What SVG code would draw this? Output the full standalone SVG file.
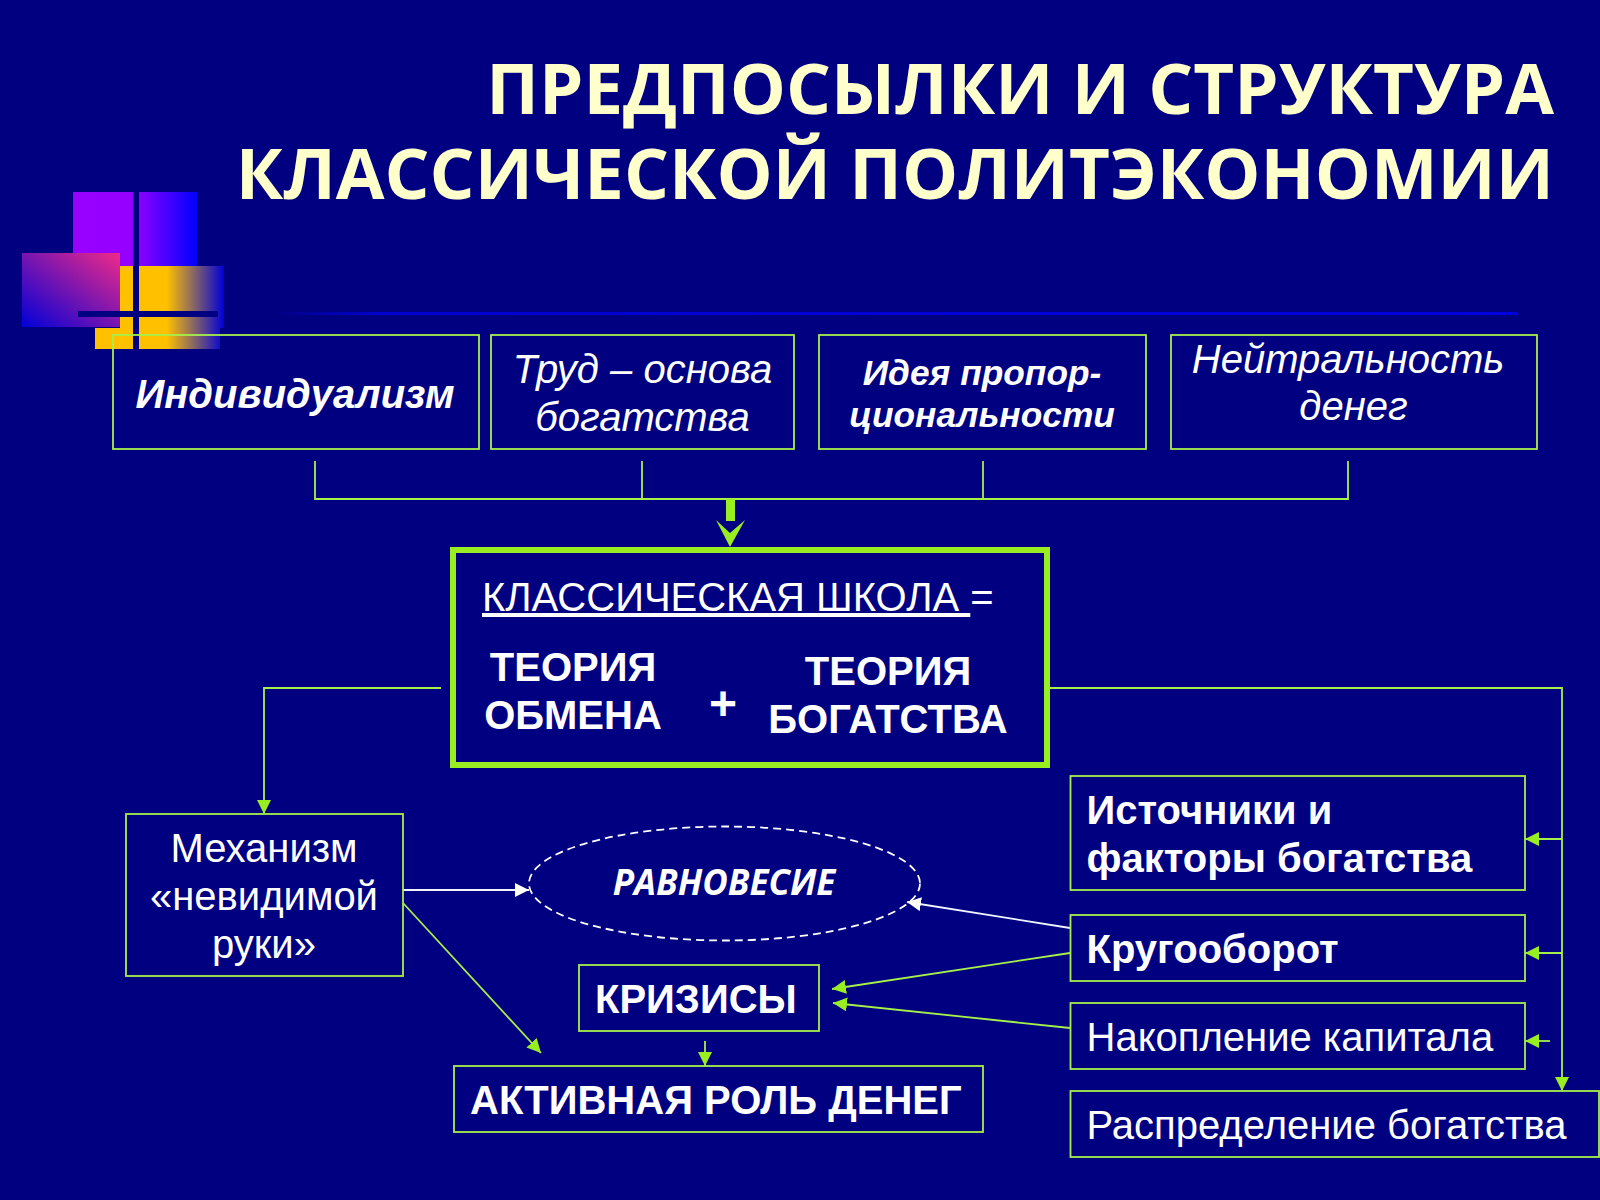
<svg xmlns="http://www.w3.org/2000/svg" width="1600" height="1200" viewBox="0 0 1600 1200">
<style>
text{font-family:"Liberation Sans",Arial,sans-serif;fill:#fff}
.t{font-family:"Open Sans","Noto Sans",sans-serif;font-weight:700;font-size:70.7px;fill:#ffc;text-anchor:end}
.b{fill:none;stroke:#a6f04a;stroke-width:1.8}
.c{fill:none;stroke:#a6f04a;stroke-width:1.8}
.w{fill:none;stroke:#f0f4ff;stroke-width:1.8}
.s{font-size:40px}
.bb{font-size:40px;font-weight:700}
.m{text-anchor:middle}
.bi{font-weight:700;font-style:italic}
.i{font-style:italic}
</style>
<defs>
<marker id="g" viewBox="0 0 14 14" refX="14" refY="7" markerWidth="14" markerHeight="14" markerUnits="userSpaceOnUse" orient="auto"><path d="M0 0L14 7L0 14Z" fill="#99ee22"/></marker>
<marker id="wh" viewBox="0 0 14 14" refX="14" refY="7" markerWidth="14" markerHeight="14" markerUnits="userSpaceOnUse" orient="auto"><path d="M0 0L14 7L0 14Z" fill="#fff"/></marker>
<linearGradient id="p1" x1="0" x2="1" y1="0" y2="0"><stop offset="0" stop-color="#9900ff"/><stop offset=".5" stop-color="#9400ff"/><stop offset="1" stop-color="#0000ff"/></linearGradient>
<linearGradient id="p2" x1="0" x2="1" y1="1" y2="0"><stop offset="0" stop-color="#0000d8"/><stop offset="1" stop-color="#f02a88"/></linearGradient>
<linearGradient id="y1" gradientUnits="userSpaceOnUse" x1="120" x2="224" y1="0" y2="0"><stop offset="0" stop-color="#ffc000"/><stop offset=".45" stop-color="#ffc000"/><stop offset="1" stop-color="#0000d8"/></linearGradient>
<linearGradient id="ln" gradientUnits="userSpaceOnUse" x1="270" x2="1517" y1="0" y2="0"><stop offset="0" stop-color="#000080"/><stop offset=".09" stop-color="#0000d0"/><stop offset="1" stop-color="#0000e0"/></linearGradient>
</defs>
<rect width="1600" height="1200" fill="#000080"/>
<g id="deco">
<rect x="73" y="192" width="124" height="74" fill="url(#p1)"/>
<rect x="120" y="266" width="104" height="62" fill="url(#y1)"/>
<rect x="95" y="328" width="125" height="21" fill="url(#y1)"/>
<rect x="95" y="328" width="30" height="21" fill="#ffc000"/>
<rect x="22" y="253" width="98" height="74" fill="url(#p2)"/>
<rect x="133" y="192" width="6" height="158" fill="#000080"/>
<rect x="78" y="311" width="140" height="6" fill="#000080"/>
<rect x="270" y="312" width="1247" height="3" fill="url(#ln)"/>
</g>
<g id="title">
<text class="t" x="1554" y="114">ПРЕДПОСЫЛКИ И СТРУКТУРА</text>
<text class="t" x="1554" y="199">КЛАССИЧЕСКОЙ ПОЛИТЭКОНОМИИ</text>
</g>
<g id="connectors">
<path class="c" d="M315 461V499H1348V461M642 461V499M983 461V499"/>
<rect x="726" y="499" width="9" height="22" fill="#99ee22"/>
<path d="M716 520L730 533L745 520L730 547Z" fill="#99ee22"/>
<path class="c" d="M441 688H264V814" marker-end="url(#g)"/>
<path class="c" d="M1050 688H1562V1091" marker-end="url(#g)"/>
<path class="c" d="M1562 839H1525" marker-end="url(#g)"/>
<path class="c" d="M1562 953H1525" marker-end="url(#g)"/>
<path class="c" d="M1550 1041H1525" marker-end="url(#g)"/>
<path class="w" d="M403 890H529" marker-end="url(#wh)"/>
<path class="w" d="M1070 928L907 902" marker-end="url(#wh)"/>
<path class="c" d="M1070 953L832 989" marker-end="url(#g)"/>
<path class="c" d="M1070 1028L833 1003" marker-end="url(#g)"/>
<path class="c" d="M403 903L541 1053" marker-end="url(#g)"/>
<path class="c" d="M705 1041V1066" marker-end="url(#g)"/>
</g>
<g id="n-individualism"><rect class="b" x="113" y="335" width="366" height="114"/><text class="m bi" font-size="40" x="295" y="408">Индивидуализм</text></g>
<g id="n-trud"><rect class="b" x="491" y="335" width="303" height="114"/><text class="m i" font-size="40" x="642.5" y="383">Труд – основа</text><text class="m i" font-size="40" x="642.5" y="431">богатства</text></g>
<g id="n-ideya"><rect class="b" x="819" y="335" width="327" height="114"/><text class="m bi" font-size="35.3" x="982" y="385">Идея пропор-</text><text class="m bi" font-size="35.3" x="982" y="427">циональности</text></g>
<g id="n-neutral"><rect class="b" x="1171" y="335" width="366" height="114"/><text class="m i" font-size="40" x="1348" y="373">Нейтральность</text><text class="m i" font-size="40" x="1353.5" y="420">денег</text></g>
<g id="n-school"><rect x="453" y="550" width="594" height="215" fill="none" stroke="#99ee22" stroke-width="6"/>
<text class="s" x="482" y="611"><tspan text-decoration="underline">КЛАССИЧЕСКАЯ ШКОЛА </tspan>=</text>
<text class="bb m" x="573" y="681">ТЕОРИЯ</text><text class="bb m" x="573" y="729">ОБМЕНА</text>
<text class="m" font-size="48" font-weight="700" x="723" y="720">+</text>
<text class="bb m" x="888" y="685">ТЕОРИЯ</text><text class="bb m" x="888" y="733">БОГАТСТВА</text></g>
<g id="n-mech"><rect class="b" x="126" y="814" width="277" height="162"/><text class="s m" x="264" y="862">Механизм</text><text class="s m" x="264" y="910">«невидимой</text><text class="s m" x="264" y="958">руки»</text></g>
<g id="n-ravn"><ellipse cx="724.5" cy="883.5" rx="195.5" ry="57" fill="none" stroke="#fff" stroke-width="1.8" stroke-dasharray="8 5"/><text x="724" y="895" text-anchor="middle" font-size="35" font-weight="700" font-style="italic" style="font-family:'Open Sans',sans-serif">РАВНОВЕСИЕ</text></g>
<g id="n-kriz"><rect class="b" x="579" y="965" width="240" height="66"/><text class="bb" x="595" y="1012.5">КРИЗИСЫ</text></g>
<g id="n-active"><rect class="b" x="454" y="1066" width="529" height="66"/><text class="bb" x="470" y="1113.5">АКТИВНАЯ РОЛЬ ДЕНЕГ</text></g>
<g id="n-ist"><rect class="b" x="1070.5" y="776" width="454.5" height="114"/><text class="bb" x="1086.5" y="824">Источники и</text><text class="bb" x="1086.5" y="872">факторы богатства</text></g>
<g id="n-krug"><rect class="b" x="1070.5" y="915" width="454.5" height="66"/><text class="bb" x="1086.5" y="962.5">Кругооборот</text></g>
<g id="n-nak"><rect class="b" x="1070.5" y="1003" width="454.5" height="66"/><text class="s" x="1086.5" y="1050.5">Накопление капитала</text></g>
<g id="n-ras"><rect class="b" x="1070.5" y="1091" width="528.5" height="66"/><text class="s" x="1086.5" y="1139">Распределение богатства</text></g>
</svg>
